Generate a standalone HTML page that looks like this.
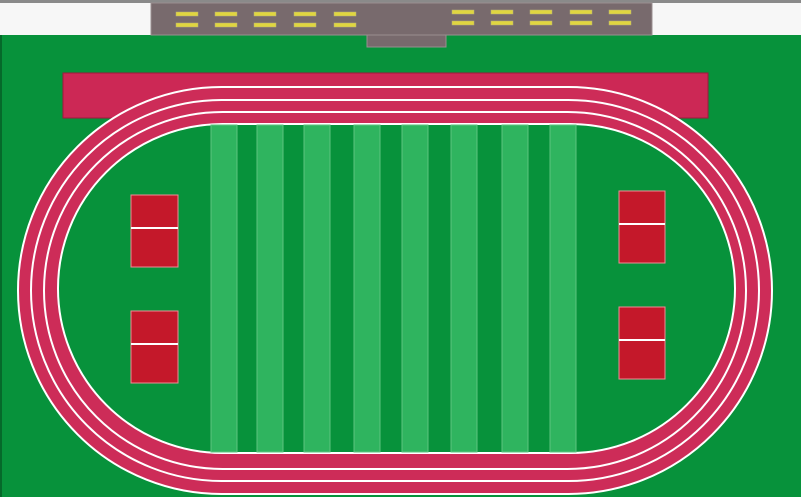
<!DOCTYPE html>
<html><head><meta charset="utf-8"><style>
html,body{margin:0;padding:0;background:#fff;width:801px;height:497px;overflow:hidden}
</style></head><body>
<svg width="801" height="497" viewBox="0 0 801 497">
<rect x="0" y="0" width="801" height="497" fill="#f7f7f7"/>
<rect x="0" y="0" width="801" height="3" fill="#8a8a8a"/>
<rect x="0" y="35" width="801" height="462" fill="#07923b"/>
<rect x="0" y="35" width="2" height="462" fill="#05692a"/>
<rect x="151" y="3" width="501" height="32" fill="#786a6d" stroke="#9a8f90" stroke-width="1"/>
<rect x="367" y="35" width="79" height="12" fill="#786a6d" stroke="#9a8f90" stroke-width="1"/>
<g id="seats"></g>
<rect x="63" y="73" width="645" height="45" fill="#cc2855" stroke="#a0173c" stroke-width="1"/>
<rect x="18" y="87" width="754" height="407" rx="203.5" fill="#cd2c58" stroke="#fff" stroke-width="2"/>
<rect x="31" y="100" width="728" height="381" rx="190.5" fill="none" stroke="#fff" stroke-width="2"/>
<rect x="44" y="112" width="702" height="357" rx="178.5" fill="none" stroke="#fff" stroke-width="2"/>
<rect x="58" y="124" width="677" height="329" rx="164.5" fill="#07923b" stroke="#fff" stroke-width="2"/>
<g id="stripes"></g>
<g><rect x="131" y="195" width="47" height="72" fill="#c4182a" stroke="#f08a95"/><line x1="131" y1="228" x2="178" y2="228" stroke="#fff" stroke-width="2"/></g>
<g><rect x="131" y="311" width="47" height="72" fill="#c4182a" stroke="#f08a95"/><line x1="131" y1="344" x2="178" y2="344" stroke="#fff" stroke-width="2"/></g>
<g><rect x="619" y="191" width="46" height="72" fill="#c4182a" stroke="#f08a95"/><line x1="619" y1="224" x2="665" y2="224" stroke="#fff" stroke-width="2"/></g>
<g><rect x="619" y="307" width="46" height="72" fill="#c4182a" stroke="#f08a95"/><line x1="619" y1="340" x2="665" y2="340" stroke="#fff" stroke-width="2"/></g>
</svg>
<script>
const stripeXs=[211,257,304,354,402,451,502,550];
const seatXL=[176,215,254,294,334];
const seatXR=[452,491,530,570,609];
const ns="http://www.w3.org/2000/svg";
const sg=document.getElementById('stripes');
stripeXs.forEach(x=>{const r=document.createElementNS(ns,'rect');
r.setAttribute('x',x);r.setAttribute('y',125);r.setAttribute('width',26);r.setAttribute('height',327);
r.setAttribute('fill','#2fb45f');r.setAttribute('stroke','#5cc47f');r.setAttribute('stroke-width','1');


sg.appendChild(r);});
const seats=document.getElementById('seats');
function seat(x,y){const r=document.createElementNS(ns,'rect');
r.setAttribute('x',x);r.setAttribute('y',y);r.setAttribute('width',22);r.setAttribute('height',4);
r.setAttribute('fill','#e0d640');r.setAttribute('stroke','#b9b07a');r.setAttribute('stroke-width','0.5');


seats.appendChild(r);}
seatXL.forEach(x=>{seat(x,12);seat(x,23);});
seatXR.forEach(x=>{seat(x,10);seat(x,21);});
</script>
</body></html>
